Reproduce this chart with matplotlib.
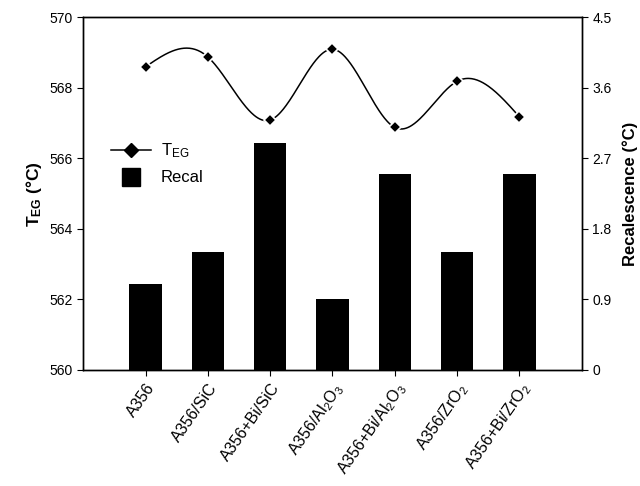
import numpy as np
import matplotlib
matplotlib.use('Agg')
import matplotlib.pyplot as plt
from matplotlib.lines import Line2D

plt.rcParams['font.family'] = ['Liberation Sans', 'DejaVu Sans']
plt.rcParams['mathtext.default'] = 'regular'

# data
samples = ['A356', 'A356/SiC', 'A356+Bi/SiC', 'A356/Al$_2$O$_3$',
           'A356+Bi/Al$_2$O$_3$', 'A356/ZrO$_2$', 'A356+Bi/ZrO$_2$']
t_eg = [568.6, 568.88, 567.09, 569.1, 566.88, 568.19, 567.18]
recal = [1.1, 1.5, 2.9, 0.9, 2.5, 1.5, 2.5]
left_ticks = [560, 562, 564, 566, 568, 570]
right_ticks = [0, 0.9, 1.8, 2.7, 3.6, 4.5]
right_labels = ['0', '0.9', '1.8', '2.7', '3.6', '4.5']


def natural_spline(x, y, n=400):
    # plain natural cubic spline, just for drawing the smooth connecting line
    x = np.asarray(x, float)
    y = np.asarray(y, float)
    k = len(x)
    h = np.diff(x)
    A = np.zeros((k, k))
    b = np.zeros(k)
    A[0, 0] = A[-1, -1] = 1
    for i in range(1, k - 1):
        A[i, i - 1] = h[i - 1]
        A[i, i] = 2 * (h[i - 1] + h[i])
        A[i, i + 1] = h[i]
        b[i] = 6 * ((y[i + 1] - y[i]) / h[i] - (y[i] - y[i - 1]) / h[i - 1])
    m = np.linalg.solve(A, b)
    xs = np.linspace(x[0], x[-1], n)
    idx = np.clip(np.searchsorted(x, xs) - 1, 0, k - 2)
    x0, x1 = x[idx], x[idx + 1]
    hh = x1 - x0
    t0, t1 = x1 - xs, xs - x0
    ys = (m[idx] * t0 ** 3 + m[idx + 1] * t1 ** 3) / (6 * hh) \
        + (y[idx] / hh - m[idx] * hh / 6) * t0 \
        + (y[idx + 1] / hh - m[idx + 1] * hh / 6) * t1
    return xs, ys


x = np.arange(len(samples))

fig = plt.figure(figsize=(6.4, 4.86), dpi=100)
ax = fig.add_axes([0.13, 0.239, 0.779, 0.725])
ax2 = ax.twinx()

ax2.bar(x, recal, width=0.52, color='black', zorder=2)

xs, ys = natural_spline(x, t_eg)
ax.plot(xs, ys, color='black', lw=1.1, zorder=3)
ax.plot(x, t_eg, ls='none', marker='D', ms=6, color='black',
        markeredgecolor='white', markeredgewidth=1.2, zorder=4)

# keep line axis on top of the bar axis
ax.set_zorder(ax2.get_zorder() + 1)
ax.patch.set_visible(False)

ax.set_xlim(-1, 7)
ax.set_ylim(560, 570)
ax2.set_ylim(0, 4.5)
ax.set_yticks(left_ticks)
ax2.set_yticks(right_ticks)
ax2.set_yticklabels(right_labels)
ax.set_xticks(x)
ax.set_xticklabels(samples, rotation=55, ha='right', rotation_mode='anchor',
                   fontsize=11.5)

for a in (ax, ax2):
    a.tick_params(direction='out', length=4, width=0.8)
    a.tick_params(axis='y', labelsize=10)
    for s in a.spines.values():
        s.set_linewidth(1.0)

ax.set_ylabel('T$_{EG}$ (°C)', fontsize=12.5, fontweight='bold', labelpad=4)
ax2.set_ylabel('Recalescence (°C)', fontsize=12, fontweight='bold', labelpad=8)

handles = [Line2D([], [], color='black', lw=1.1, marker='D', ms=7),
           Line2D([], [], ls='none', color='black', marker='s', ms=13)]
ax.legend(handles, ['T$_{EG}$', 'Recal'], loc='upper left',
          bbox_to_anchor=(0.025, 0.69), frameon=False, fontsize=12,
          handlelength=2.4, handletextpad=0.6, labelspacing=0.6)

fig.savefig('out.png', dpi=100)
